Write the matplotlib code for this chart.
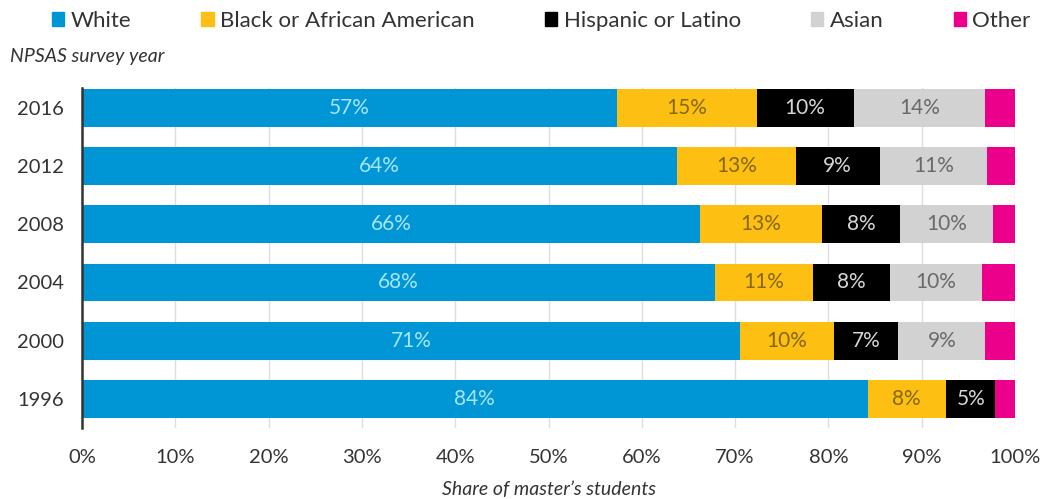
import numpy as np
import matplotlib.pyplot as plt
from matplotlib.patches import Patch

plt.rcParams['font.family'] = ['Lato', 'DejaVu Sans']

# NPSAS survey years, bottom to top
years = ["1996", "2000", "2004", "2008", "2012", "2016"]

# share of master's students by race/ethnicity (%)
white = [84.2, 70.5, 67.8, 66.2, 63.8, 57.3]
black = [8.4, 10.1, 10.5, 13.1, 12.7, 15.0]
hispanic = [5.3, 6.9, 8.3, 8.4, 9.0, 10.4]
asian = [0.0, 9.3, 9.9, 9.9, 11.5, 14.1]
other = [2.1, 3.2, 3.5, 2.4, 3.0, 3.2]

# printed labels (blank where no label is drawn)
white_lbl = ["84%", "71%", "68%", "66%", "64%", "57%"]
black_lbl = ["8%", "10%", "11%", "13%", "13%", "15%"]
hispanic_lbl = ["5%", "7%", "8%", "8%", "9%", "10%"]
asian_lbl = ["", "9%", "10%", "10%", "11%", "14%"]
other_lbl = ["", "", "", "", "", ""]

series = [
    ("White", white, white_lbl, "#0096d6", "#a6e6fa"),
    ("Black or African American", black, black_lbl, "#fdbf11", "#85680c"),
    ("Hispanic or Latino", hispanic, hispanic_lbl, "#000000", "#d6d6d6"),
    ("Asian", asian, asian_lbl, "#d2d2d2", "#6a6a6a"),
    ("Other", other, other_lbl, "#ec008b", "#ffffff"),
]

fig = plt.figure(figsize=(10.45, 4.99), dpi=100)
ax = fig.add_axes([0.0785, 0.1423, 0.8928, 0.6813])

y = np.arange(len(years))
left = np.zeros(len(years))
handles = []
for name, vals, lbls, col, tcol in series:
    vals = np.array(vals)
    ax.barh(y, vals, left=left, height=0.65, color=col, zorder=2)
    for yi, (l, v, t) in enumerate(zip(left, vals, lbls)):
        if t:
            ax.text(l + v / 2, yi, t, ha="center", va="center",
                    color=tcol, fontsize=15, zorder=3)
    left += vals
    handles.append(Patch(color=col, label=name))

ax.set_xlim(0, 100)
ax.set_ylim(-0.5, 5.34)
ax.set_xticks(np.arange(0, 101, 10))
ax.set_xticklabels([f"{v}%" for v in range(0, 101, 10)], fontsize=14.5, color="#333333")
ax.set_yticks(y)
ax.set_yticklabels(years, fontsize=14.5, color="#333333")
ax.tick_params(length=0)
ax.tick_params(axis="y", pad=13)
ax.tick_params(axis="x", pad=15)
ax.xaxis.grid(True, color="#dedede", linewidth=1, zorder=0)
ax.set_axisbelow(True)
for s in ["top", "right", "bottom"]:
    ax.spines[s].set_visible(False)
ax.spines["left"].set_color("#333333")
ax.spines["left"].set_linewidth(1.8)
ax.spines["left"].set_zorder(4)

ax.set_xlabel("Share of master\u2019s students", fontsize=14, style="italic",
              color="#333333", labelpad=11)
fig.text(0.01, 0.886, "NPSAS survey year", fontsize=14, style="italic",
         color="#333333", va="center")

fig.legend(handles=handles, loc="center", bbox_to_anchor=(0.518, 0.958), ncol=5,
           frameon=False, fontsize=16, handlelength=0.55, handleheight=0.55,
           handletextpad=0.3, columnspacing=3.15, labelcolor="#333333")

fig.savefig("out.png", dpi=100)
